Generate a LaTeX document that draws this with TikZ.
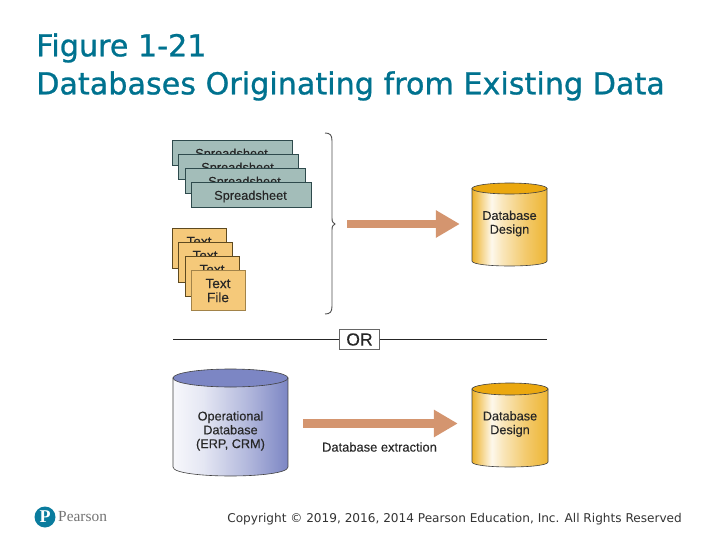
\documentclass[tikz,border=0pt]{standalone}
\usepackage{fontspec}
\setmainfont[FakeBold=0.15]{Liberation Sans}
\newfontfamily\titlefont[FakeBold=0.9]{DejaVu Sans}
\newfontfamily\copyfont{DejaVu Sans}
\newfontfamily\logofont{Liberation Serif}
\usetikzlibrary{arrows.meta}
\definecolor{titleteal}{HTML}{00728F}
\definecolor{logoteal}{HTML}{0A7C9E}
\definecolor{sheetfill}{HTML}{A3BDB9}
\definecolor{sheetline}{HTML}{2E4A4C}
\definecolor{cardfill}{HTML}{F5C97A}
\definecolor{cardline}{HTML}{5E4A20}
\definecolor{arrowfill}{HTML}{D4956F}
\definecolor{goldtop}{HTML}{EBA80F}
\definecolor{bluetop}{HTML}{7C86C4}
\definecolor{inktext}{HTML}{262626}
\definecolor{bracegray}{HTML}{4E4E4E}
\pgfdeclarehorizontalshading{goldbody}{100bp}{color(0bp)=(goldtop!90!white); color(25bp)=(goldtop!90!white); color(32bp)=(goldtop!45!white); color(38bp)=(white!92!goldtop); color(45bp)=(white!72!goldtop); color(60bp)=(goldtop!60!white); color(75bp)=(goldtop!85!white); color(100bp)=(goldtop!85!white)}
\pgfdeclarehorizontalshading{bluebody}{100bp}{color(0bp)=(white!94!bluetop); color(25bp)=(white!94!bluetop); color(38bp)=(white!80!bluetop); color(58bp)=(bluetop!60!white); color(75bp)=(bluetop); color(100bp)=(bluetop)}
\tikzset{
  sheetbox/.style={draw=sheetline,line width=0.8pt,fill=sheetfill},
  sheetlabel/.style={font=\fontsize{12.8}{14}\selectfont,text=inktext,inner sep=0pt},
  cardbox/.style={draw=cardline,line width=0.7pt,fill=cardfill},
  cardfront/.style={draw=cardline!55!cardfill,line width=0.7pt,fill=cardfill},
  cardlabel/.style={font=\fontsize{13.6}{14}\selectfont,text=inktext,inner sep=0pt,align=center},
  cyllabel/.style={font=\fontsize{12.7}{13.8}\selectfont,text=inktext,inner sep=0pt,align=center},
  cylline/.style={draw=black!75,line width=0.6pt},
  bigarrow/.style={draw=arrowfill,line width=8.5pt,-{Triangle[length=24pt,width=26pt,fill=arrowfill]}},
  orrule/.style={draw=black!85,line width=1pt},
}
% x1, x2, ytop, ry, yside end, ybottom, top colour, shading
\newcommand{\cylshape}[8]{%
  \pgfmathsetmacro{\cx}{(#1+#2)/2}%
  \pgfmathsetmacro{\cy}{#3+#4}%
  \pgfmathsetmacro{\rx}{(#2-#1)/2}%
  \pgfmathsetmacro{\ctl}{#5+(#6-#5)*1.333}%
  \path[shading=#8,cylline,draw] (#1,\cy) -- (#1,#5) .. controls (#1,\ctl) and (#2,\ctl) .. (#2,#5) -- (#2,\cy) -- cycle;
  \draw[cylline,fill=#7] (\cx,\cy) ellipse [x radius=\rx pt,y radius=#4 pt];
}
\begin{document}
\begin{tikzpicture}[x=1pt,y=-1pt]
\useasboundingbox (0,0) rectangle (720,540);
% title
\node[anchor=west,inner sep=0pt,text=titleteal,font=\titlefont\fontsize{30.2}{38}\selectfont] (title1) at (36,48) {Figure 1-21};
\node[anchor=west,inner sep=0pt,text=titleteal,font=\titlefont\fontsize{30.2}{38}\selectfont] (title2) at (36,86) {Databases Originating from Existing Data};
% spreadsheets
\foreach \nm/\xa/\ya in {s1/172/140,s2/178/154,s3/185/168,s4/191/182}{
  \pgfmathsetmacro{\xb}{\xa+120.5}
  \pgfmathsetmacro{\yb}{\ya+25.5}
  \pgfmathsetmacro{\xc}{\xa+59.5}
  \pgfmathsetmacro{\yc}{\ya+14.5}
  \draw[sheetbox] (\xa,\ya) rectangle (\xb,\yb);
  \node[sheetlabel] (\nm) at (\xc,\yc) {Spreadsheet};
}
% text files
\foreach \nm/\xa/\ya in {t1/172/228,t2/178/242,t3/185/256}{
  \pgfmathsetmacro{\xb}{\xa+54.5}
  \pgfmathsetmacro{\yb}{\ya+40.5}
  \pgfmathsetmacro{\xc}{\xa+27}
  \pgfmathsetmacro{\yc}{\ya+13.5}
  \draw[cardbox] (\xa,\ya) rectangle (\xb,\yb);
  \node[cardlabel] (\nm) at (\xc,\yc) {Text};
}
\draw[cardfront] (191,270) rectangle (245.5,310.5);
\node[cardlabel] (t4) at (218,290.5) {Text\\File};
% brace
\draw[bracegray,line width=0.9pt] (325,133) .. controls (330,133) and (332,135) .. (332,141) -- (332,218) .. controls (332,222) and (333,223) .. (335,224) .. controls (333,225) and (332,226) .. (332,230) -- (332,306) .. controls (332,312) and (330,314) .. (325,314);
% cylinders
\cylshape{472}{547}{183}{5.5}{261}{266}{goldtop}{goldbody}
\cylshape{472}{548}{383}{6}{462}{467}{goldtop}{goldbody}
\cylshape{173}{288}{369}{9}{467}{476}{bluetop}{bluebody}
\node[cyllabel,minimum width=75pt] (db1) at (509.5,223.5) {Database\\Design};
\node[cyllabel,minimum width=76pt] (db2) at (510,424) {Database\\Design};
\node[cyllabel,minimum width=115pt] (opdb) at (230.5,431) {Operational\\Database\\(ERP, CRM)};
% arrows
\coordinate (a1s) at (347,224);
\coordinate (a1e) at (db1.west |- a1s);
\draw[bigarrow,shorten >=12pt] (a1s) -- (a1e);
\coordinate (a2s) at (303,423.5);
\coordinate (a2e) at (db2.west |- a2s);
\draw[bigarrow,shorten >=14pt] (a2s) -- (a2e);
\node[inner sep=0pt,text=inktext,font=\fontsize{12.9}{14}\selectfont] (extr) at (379.5,447) {Database extraction};
% OR rule
\node[draw=black!60,line width=0.7pt,minimum width=40pt,minimum height=20pt,inner sep=0pt,font=\fontsize{17.6}{18}\selectfont,text=inktext] (ornode) at (359.5,339.5) {OR};
\coordinate (ol) at (173,339);
\coordinate (orr) at (547,339);
\draw[orrule] (ol) -- (ol -| ornode.west);
\draw[orrule] (orr -| ornode.east) -- (orr);
% logo
\fill[logoteal] (45,517) circle (10.5pt);
\node[inner sep=0pt,text=white,font=\logofont\bfseries\fontsize{18}{18}\selectfont] (logop) at (45,517) {P};
\node[anchor=west,inner sep=0pt,text=black!55,font=\logofont\fontsize{15.4}{16}\selectfont] (logot) at (58,517) {Pearson};
% copyright
\node[anchor=east,inner sep=0pt,text=black!80,font=\copyfont\fontsize{12.1}{14}\selectfont] (copy) at (682,519) {Copyright © 2019, 2016, 2014 Pearson Education, Inc. All Rights Reserved};
\end{tikzpicture}
\end{document}
